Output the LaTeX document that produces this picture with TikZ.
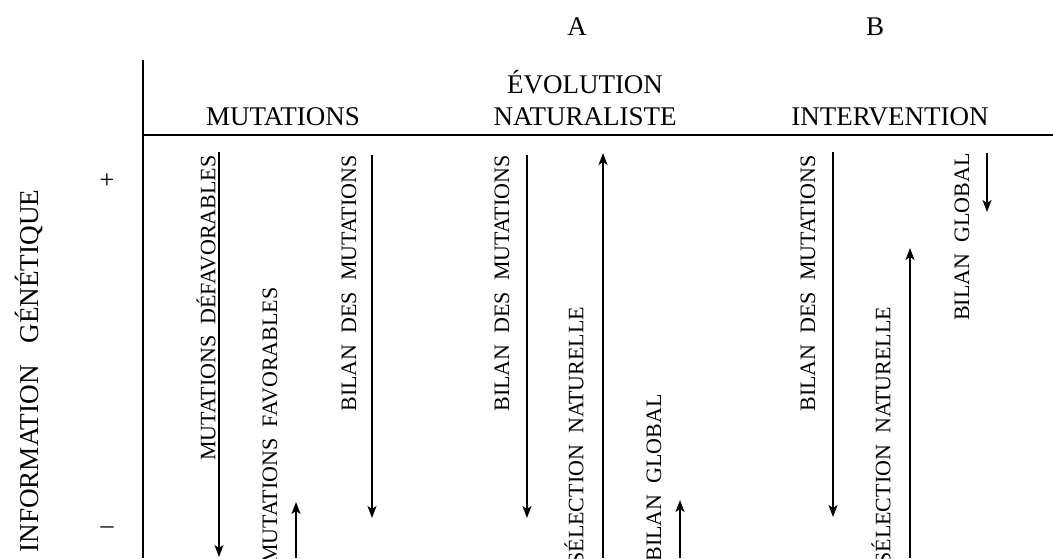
\documentclass[tikz,border=0pt]{standalone}
\usepackage{fontspec}
\setmainfont{Liberation Serif}
\usetikzlibrary{arrows.meta}
\tikzset{
  lbl/.style={rotate=90,inner sep=0pt,font=\fontsize{11}{13}\selectfont},
  hd/.style={anchor=base,inner sep=0pt,font=\fontsize{13.5}{16}\selectfont},
  arr/.style={-{Stealth[length=6pt,width=4.5pt,inset=1.5pt]},line width=0.8pt}
}
\begin{document}
\begin{tikzpicture}[x=0.5pt,y=-0.5pt]
        \useasboundingbox (0,0) rectangle (1053,558);

        % axes
        \coordinate (ytop) at (143,60);
        \coordinate (ybot) at (143,558);
        \coordinate (xleft) at (143,135);
        \coordinate (xright) at (1053,135);
        \draw [line width=0.8pt] (ytop) -- (ybot);
        \draw [line width=0.8pt] (xleft) -- (xright);

        % headings
        \node (a) at (577,35) [hd]{A};
        \node (b) at (875,35) [hd]{B};
        \node (mut) at (283,125) [hd]{MUTATIONS};
        \node (evo) at (585,93) [hd]{ÉVOLUTION};
        \node (nat) at (585,125) [hd]{NATURALISTE};
        \node (inter) at (890,125) [hd]{INTERVENTION};

        \node (plus) at (107,181) [font=\fontsize{13}{16}\selectfont]{+};
        \node (minus) at (107,530) [font=\fontsize{13}{16}\selectfont]{--};
        \node (info) at (29,371) [rotate=90,font=\fontsize{13.6}{16}\selectfont]{INFORMATION\hspace{0.8em}GÉNÉTIQUE};

        % mutations
        \node (mdef) at (206,155) [lbl,anchor=east]{MUTATIONS\enspace DÉFAVORABLES};
        \coordinate (mdef1) at (219,152);
        \coordinate (mdef2) at (219,557);
        \draw [arr] (mdef1) -- (mdef2);

        \node (mfav) at (270,564) [lbl,anchor=west]{MUTATIONS\enspace FAVORABLES};
        \coordinate (mfav1) at (296,558);
        \coordinate (mfav2) at (296,502);
        \draw [arr] (mfav1) -- (mfav2);

        \node (bma) at (349,155) [lbl,anchor=east]{BILAN\enspace DES\enspace MUTATIONS};
        \coordinate (bma1) at (372,155);
        \coordinate (bma2) at (372,518);
        \draw [arr] (bma1) -- (bma2);

        % A
        \node (bmb) at (502,155) [lbl,anchor=east]{BILAN\enspace DES\enspace MUTATIONS};
        \coordinate (bmb1) at (527,155);
        \coordinate (bmb2) at (527,518);
        \draw [arr] (bmb1) -- (bmb2);

        \node (snb) at (574,565) [lbl,anchor=west]{SÉLECTION\enspace NATURELLE};
        \coordinate (snb1) at (603,558);
        \coordinate (snb2) at (603,153);
        \draw [arr] (snb1) -- (snb2);

        \node (bgb) at (654,562) [lbl,anchor=west]{BILAN\enspace GLOBAL};
        \coordinate (bgb1) at (680,558);
        \coordinate (bgb2) at (680,500);
        \draw [arr] (bgb1) -- (bgb2);

        % B
        \node (bmc) at (808,155) [lbl,anchor=east]{BILAN\enspace DES\enspace MUTATIONS};
        \coordinate (bmc1) at (833,152);
        \coordinate (bmc2) at (833,517);
        \draw [arr] (bmc1) -- (bmc2);

        \node (snc) at (881,565) [lbl,anchor=west]{SÉLECTION\enspace NATURELLE};
        \coordinate (snc1) at (910,558);
        \coordinate (snc2) at (910,248);
        \draw [arr] (snc1) -- (snc2);

        \node (bgc) at (962,153) [lbl,anchor=east]{BILAN\enspace GLOBAL};
        \coordinate (bgc1) at (987,153);
        \coordinate (bgc2) at (987,212);
        \draw [arr] (bgc1) -- (bgc2);

    \end{tikzpicture}
\end{document}
